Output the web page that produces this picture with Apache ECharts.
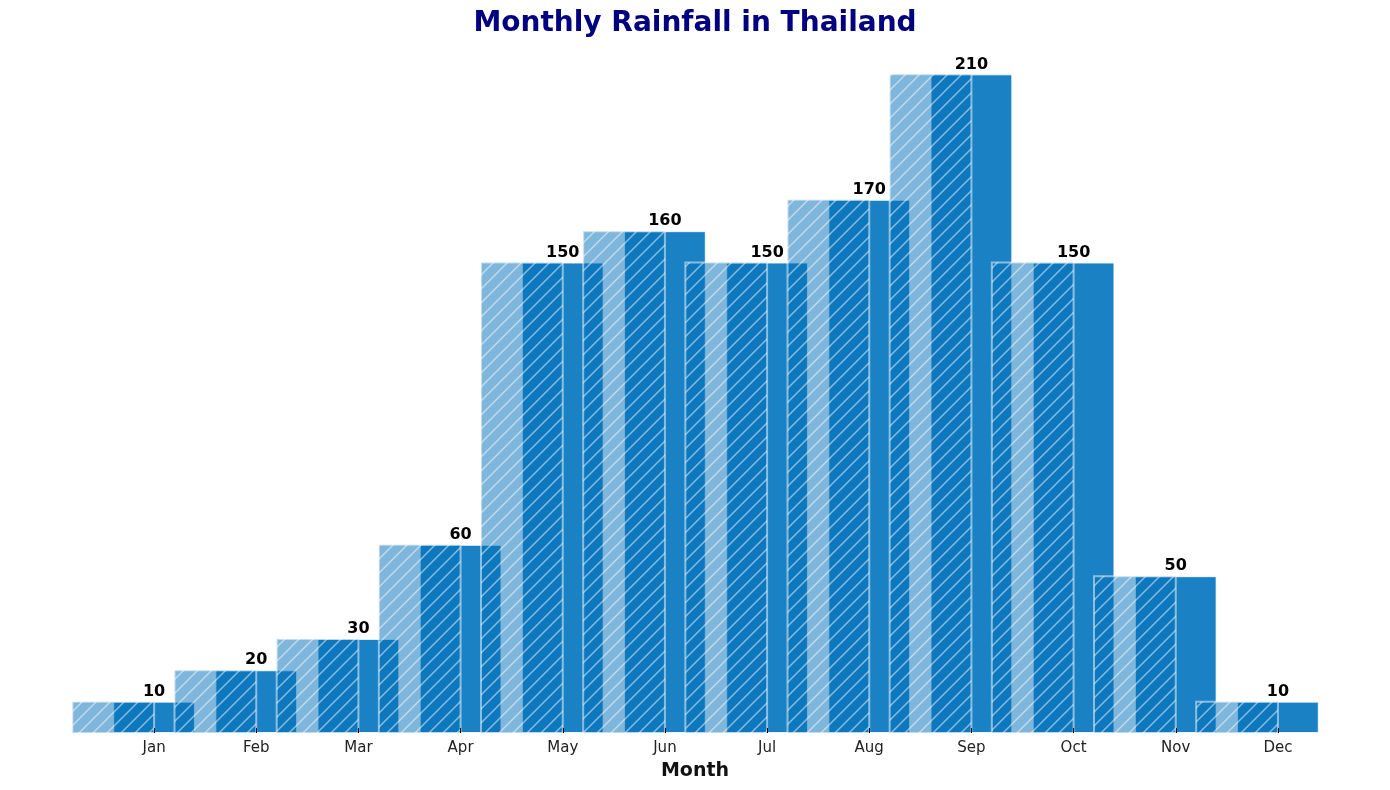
<!DOCTYPE html>
<html>
<head>
<meta charset="utf-8">
<title>Monthly Rainfall in Thailand</title>
<script src="https://cdn.jsdelivr.net/npm/echarts@6/dist/echarts.min.js"></script>
<style>
    html, body { margin: 0; padding: 0; background: #fff; }
    #main { width: 1390px; height: 790px; }
</style>
</head>
<body>
<div id="main"></div>
<script>
// data
var months = ['Jan', 'Feb', 'Mar', 'Apr', 'May', 'Jun', 'Jul', 'Aug', 'Sep', 'Oct', 'Nov', 'Dec'];
var rainfall = [10, 20, 30, 60, 150, 160, 150, 170, 210, 150, 50, 10];
var yMax = 220;

var solidColor = '#1a82c4';
var shadeColor = '#006db8';

// hatch tile: white "/" lines on transparent
function makeHatch() {
    var s = 14;
    var c = document.createElement('canvas');
    c.width = s; c.height = s;
    var ctx = c.getContext('2d');
    ctx.strokeStyle = '#ffffff';
    ctx.lineWidth = 1.5;
    ctx.beginPath();
    ctx.moveTo(-1, s + 1); ctx.lineTo(s + 1, -1);
    ctx.moveTo(-1, 1); ctx.lineTo(1, -1);
    ctx.moveTo(s - 1, s + 1); ctx.lineTo(s + 1, s - 1);
    ctx.stroke();
    return c;
}
var hatch = { image: makeHatch(), repeat: 'repeat' };

var pairs = rainfall.map(function (v, i) { return [i, v]; });

// offset hatched bar: right edge sits on the month tick
function renderShade(params, api) {
    var v = api.value(1);
    var top = api.coord([api.value(0), v]);
    var base = api.coord([api.value(0), 0]);
    var w = api.size([1, 0])[0] * 0.8;
    var shape = { x: top[0] - w, y: top[1], width: w, height: base[1] - top[1] };
    return {
        type: 'group',
        children: [
            { type: 'rect', shape: shape, style: { fill: shadeColor, opacity: 0.5 } },
            { type: 'rect', shape: shape, style: { fill: hatch, opacity: 0.5 } },
            { type: 'rect', shape: shape, style: { fill: 'none', stroke: '#ffffff', lineWidth: 2, opacity: 0.5 } }
        ]
    };
}

function renderLabel(params, api) {
    var v = api.value(1);
    var top = api.coord([api.value(0), v]);
    return {
        type: 'text',
        x: top[0],
        y: top[1] - 2,
        style: {
            text: String(v),
            font: 'bold 16px "DejaVu Sans"',
            fill: '#000',
            align: 'center',
            verticalAlign: 'bottom'
        }
    };
}

var myChart = echarts.init(document.getElementById('main'));
myChart.setOption({
    animation: false,
    title: {
        text: 'Monthly Rainfall in Thailand',
        left: 'center',
        top: 5,
        textStyle: { fontFamily: 'DejaVu Sans', fontSize: 28, fontWeight: 'bold', color: '#000080' }
    },
    grid: { left: 103, right: 61, top: 43, bottom: 57 },
    xAxis: {
        type: 'category',
        data: months,
        z: 10,
        name: 'Month',
        nameLocation: 'middle',
        nameGap: 29,
        // label sits under the middle of the bars, not of the grid
        nameTextStyle: { fontFamily: 'DejaVu Sans', fontSize: 19, fontWeight: 'bold', color: '#111', padding: [0, 42, 0, 0] },
        axisLine: { show: false },
        axisTick: { show: true, alignWithLabel: true, inside: true, length: 5, lineStyle: { color: '#000', width: 1 } },
        axisLabel: { margin: 8, fontFamily: 'DejaVu Sans', fontSize: 15, color: '#222' }
    },
    yAxis: {
        type: 'value',
        min: 0,
        max: yMax,
        show: false,
        splitLine: { show: false }
    },
    series: [
        {
            name: 'Rainfall',
            type: 'bar',
            data: rainfall,
            barWidth: '80%',
            itemStyle: { color: solidColor, borderColor: 'rgba(255,255,255,0.8)', borderWidth: 1 }
        },
        {
            name: 'Shade',
            type: 'custom',
            data: pairs,
            encode: { x: 0, y: 1 },
            renderItem: renderShade,
            z: 3
        },
        {
            name: 'Labels',
            type: 'custom',
            data: pairs,
            encode: { x: 0, y: 1 },
            renderItem: renderLabel,
            z: 4
        }
    ]
});
</script>
</body>
</html>
